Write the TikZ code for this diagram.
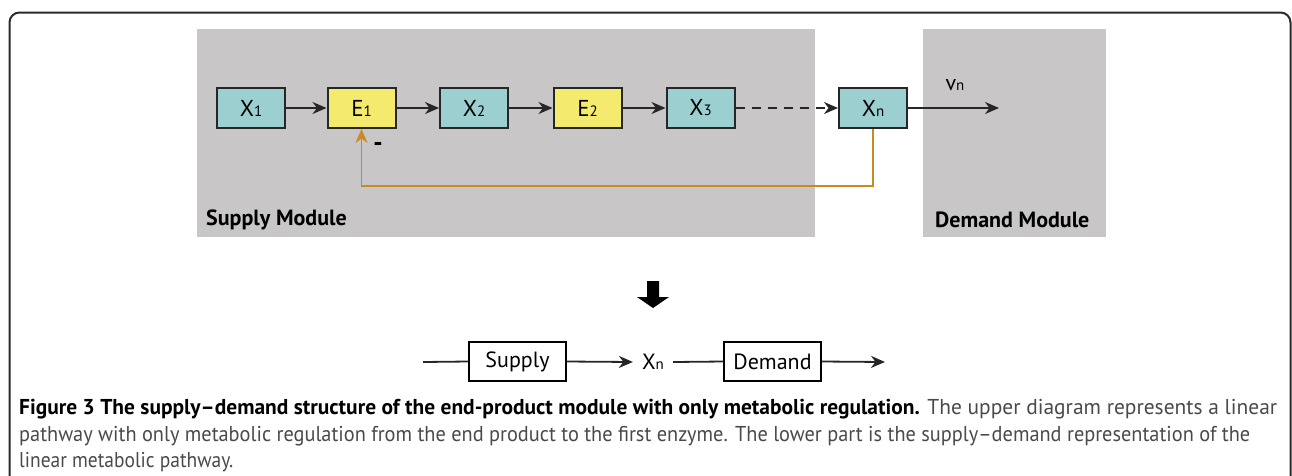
\documentclass[tikz,border=0pt]{standalone}
\usepackage{fontspec}
\usepackage{graphicx}
\setmainfont{PT Sans}
\usetikzlibrary{arrows.meta}
\definecolor{modgray}{HTML}{C8C6C7}
\definecolor{teal}{HTML}{9CCFCF}
\definecolor{yel}{HTML}{F4EB6E}
\definecolor{fbor}{HTML}{C98A22}
\definecolor{captxt}{HTML}{4A4A4A}
\definecolor{frame}{HTML}{2A2A2A}
\newcommand{\sub}[1]{{\fontsize{15}{15}\selectfont #1}}
\tikzset{
  tip/.tip={Stealth[length=14pt,width=12pt,inset=4.5pt]},
  mod/.style={fill=modgray, draw=none},
  species/.style={draw=black!85, line width=2pt, fill=teal, minimum width=68pt, minimum height=40pt, inner sep=0pt, font=\fontsize{23}{23}\selectfont},
  enzyme/.style={species, fill=yel},
  flow/.style={draw=black!85, line width=2pt, -tip},
  plainline/.style={draw=black!85, line width=1.8pt},
  fb/.style={draw=fbor, line width=1.8pt, -tip},
  modlabel/.style={font=\fontsize{22}{22}\selectfont\bfseries, anchor=west, inner sep=0pt},
  lowbox/.style={draw=black, line width=1.8pt, fill=white, minimum width=97pt, minimum height=39pt, inner sep=0pt, font=\fontsize{22}{22}\selectfont},
  capline/.style={anchor=west, inner sep=0pt, font=\fontsize{21.5}{21.5}\selectfont}
}
\begin{document}
\begin{tikzpicture}[x=1pt,y=-1pt]
\useasboundingbox (0,0) rectangle (1292,475);
% frame
\draw[frame, line width=2pt, rounded corners=10pt] (9.5,478) -- (9.5,12.5) -- (1290.5,12.5) -- (1290.5,478);
% modules
\fill[mod] (197,29) rectangle (815,237);
\fill[mod] (923,29) rectangle (1106,237);
\node[modlabel] (suplab) at (206,220) {Supply Module};
\node[modlabel] (demlab) at (935,220) {Demand Module};
% species
\node[species] (X1) at (251,108) {X\sub{1}};
\node[enzyme]  (E1) at (361.5,108) {E\sub{1}};
\node[species] (X2) at (474,108) {X\sub{2}};
\node[enzyme]  (E2) at (587.5,108) {E\sub{2}};
\node[species] (X3) at (700.5,108) {X\sub{3}};
\node[species] (Xn) at (873,108) {X\sub{n}};
\draw[flow] (X1.east) -- (E1.west);
\draw[flow] (E1.east) -- (X2.west);
\draw[flow] (X2.east) -- (E2.west);
\draw[flow] (E2.east) -- (X3.west);
\draw[flow, dash pattern=on 9pt off 7pt] (X3.east) -- (Xn.west);
\coordinate (vend) at (999,108);
\draw[flow] (Xn.east) -- (vend);
\node[font=\fontsize{22}{22}\selectfont, inner sep=0pt] (vn) at (955,85) {v\sub{n}};
% feedback
\coordinate (fbc) at (361.5,186);
\draw[fb] (Xn.south) |- (fbc) -- (E1.south);
\node[font=\fontsize{26}{26}\selectfont\bfseries, inner sep=0pt] (minus) at (378,147) {-};
% big arrow
\fill[black] (647,281) -- (659,281) -- (659,297) -- (669,297) -- (653,308) -- (637,297) -- (647,297) -- cycle;
% lower row
\coordinate (lstart) at (423,362);
\node[lowbox] (sup) at (517.5,361.5) {Supply};
\node[font=\fontsize{22}{22}\selectfont, inner sep=9pt] (xnl) at (653,362) {X\sub{n}};
\node[lowbox] (dem) at (772.5,361.5) {Demand};
\coordinate (lend) at (885,362);
\draw[plainline] (lstart) -- (sup.west);
\draw[plainline, -tip] (sup.east) -- (xnl.west);
\draw[plainline] (xnl.east) -- (dem.west);
\draw[plainline, -tip] (dem.east) -- (lend);
% caption
\node[capline] (cap1) at (19,409) {\resizebox{1258pt}{\height}{\textbf{Figure 3 The supply–demand structure of the end-product module with only metabolic regulation.} \textcolor{captxt}{The upper diagram represents a linear}}};
\node[capline] (cap2) at (19,436) {\resizebox{1231pt}{\height}{\textcolor{captxt}{pathway with only metabolic regulation from the end product to the first enzyme. The lower part is the supply–demand representation of the}}};
\node[capline] (cap3) at (19,462) {\resizebox{214pt}{\height}{\textcolor{captxt}{linear metabolic pathway.}}};
\end{tikzpicture}
\end{document}
